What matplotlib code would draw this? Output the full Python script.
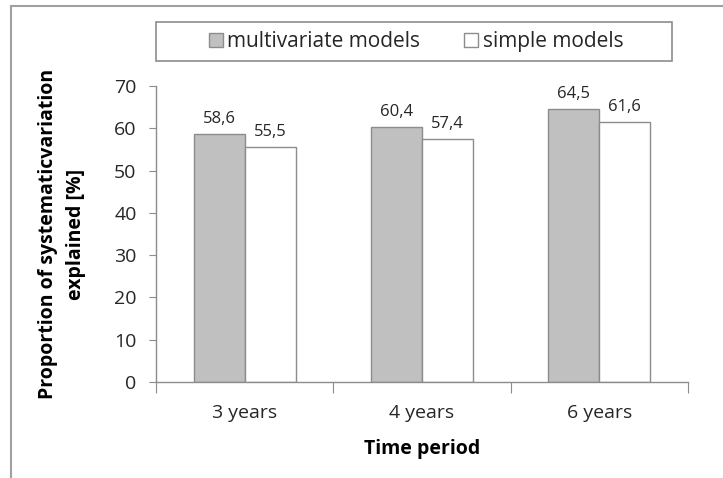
import matplotlib.pyplot as plt
from matplotlib.patches import Rectangle
from matplotlib.lines import Line2D
import numpy as np

plt.rcParams['font.family'] = ['Open Sans', 'DejaVu Sans']

periods = ['3 years', '4 years', '6 years']
multivariate = [58.6, 60.4, 64.5]
simple = [55.5, 57.4, 61.6]

GRAY_EDGE = '#8c8c8c'
TXT = '#262626'

fig = plt.figure(figsize=(7.23, 4.78), dpi=100)
ax = fig.add_axes([0.2158, 0.2008, 0.7358, 0.6192])

x = np.arange(len(periods))
w = 0.288
b1 = ax.bar(x - w / 2, multivariate, w, color='#c0c0c0', edgecolor=GRAY_EDGE, linewidth=1)
b2 = ax.bar(x + w / 2, simple, w, color='white', edgecolor=GRAY_EDGE, linewidth=1)

# value labels, decimal comma
for bars, vals in ((b1, multivariate), (b2, simple)):
    for r, v in zip(bars, vals):
        ax.annotate(f'{v:.1f}'.replace('.', ','), (r.get_x() + r.get_width() / 2, v),
                    xytext=(0, 5), textcoords='offset points', ha='center', va='bottom',
                    fontsize=12, color=TXT)

ax.set_xlim(-0.5, len(periods) - 0.5)
ax.set_ylim(0, 70)
ax.set_yticks(range(0, 71, 10))
ax.set_xticks(np.arange(-0.5, len(periods), 1.0))
ax.set_xticklabels([])
ax.set_xticks(x, minor=True)
ax.set_xticklabels(periods, minor=True)
ax.tick_params(axis='x', which='major', length=8, color=GRAY_EDGE, direction='out')
ax.tick_params(axis='x', which='minor', length=0, pad=16, labelsize=14, labelcolor=TXT)
ax.tick_params(axis='y', length=5, color=GRAY_EDGE, pad=9, labelsize=14, labelcolor=TXT)

for s in ('top', 'right'):
    ax.spines[s].set_visible(False)
for s in ('left', 'bottom'):
    ax.spines[s].set_color(GRAY_EDGE)
    ax.spines[s].set_linewidth(1)

ax.set_xlabel('Time period', fontsize=14, fontweight='bold', labelpad=12, color='black')
ax.set_ylabel('Proportion of systematicvariation\nexplained [%]', fontsize=14,
              fontweight='bold', labelpad=20, linespacing=1.55, color='black')

# legend frame and entries
fig.patches.append(Rectangle((156 / 723, 1 - 61 / 478), 516 / 723, 39 / 478,
                             transform=fig.transFigure, facecolor='white',
                             edgecolor=GRAY_EDGE, linewidth=1.2))
handles = [Line2D([], [], marker='s', linestyle='none', markersize=10,
                  markerfacecolor='#c0c0c0', markeredgecolor=GRAY_EDGE),
           Line2D([], [], marker='s', linestyle='none', markersize=10,
                  markerfacecolor='white', markeredgecolor=GRAY_EDGE)]
fig.legend(handles, ['multivariate models', 'simple models'], ncol=2, frameon=False,
           loc='center', bbox_to_anchor=(415 / 723, 1 - 41.5 / 478), fontsize=15,
           handletextpad=0.1, columnspacing=2.0, handlelength=0.9, labelcolor=TXT)

# outer chart border (left and top only)
fig.lines.append(Line2D([11 / 723, 11 / 723], [0, 1 - 6 / 478], transform=fig.transFigure,
                        color='#a0a0a0', linewidth=1.5))
fig.lines.append(Line2D([11 / 723, 1], [1 - 6 / 478, 1 - 6 / 478], transform=fig.transFigure,
                        color='#a0a0a0', linewidth=1.5))

fig.savefig('out.png', dpi=100)
